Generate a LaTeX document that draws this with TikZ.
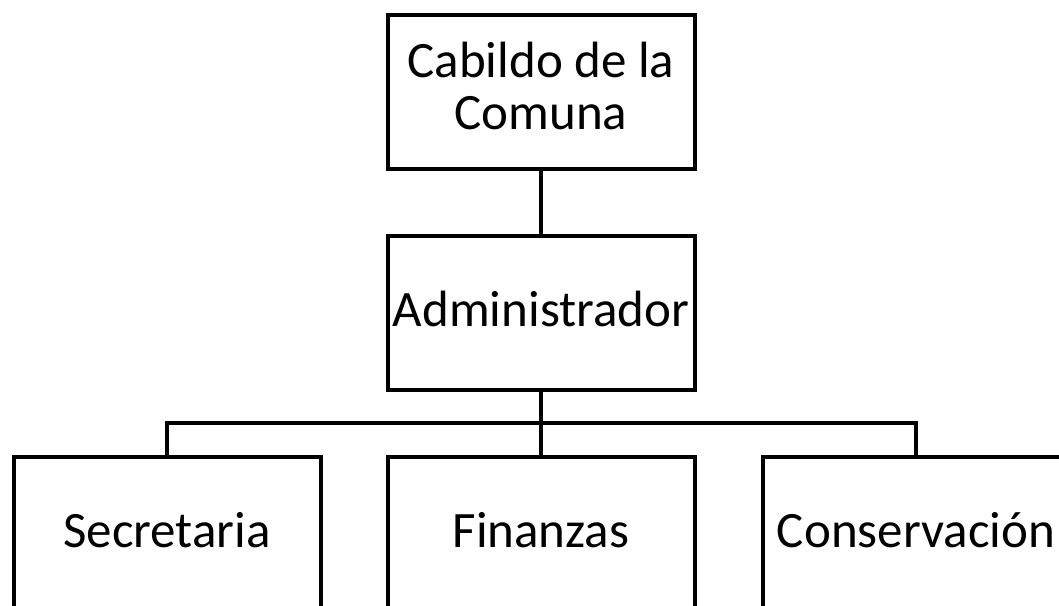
\documentclass[tikz,border=0pt]{standalone}
\usepackage{fontspec}
\setmainfont{Carlito}
\begin{document}
\begin{tikzpicture}[x=1pt,y=-1pt,
  orgbox/.style={draw=black, line width=4pt, fill=white, minimum width=307pt, minimum height=154pt, inner sep=0pt, align=center, font=\fontsize{51}{52}\selectfont, text height=34pt, text depth=7pt},
  twoline/.style={text height=80pt, text depth=6pt},
  link/.style={draw=black, line width=4pt}]
\useasboundingbox (0,0) rectangle (1059,605);
\node[orgbox, twoline] (cab) at (541,92) {Cabildo de la\\Comuna};
\node[orgbox] (adm) at (541,313) {Administrador};
\node[orgbox] (sec) at (167,534) {Secretaria};
\node[orgbox] (fin) at (541,534) {Finanzas};
\node[orgbox] (con) at (916,534) {Conservación};
\coordinate (bus) at (541,423);
\draw[link] (cab.south) -- (adm.north);
\draw[link] (adm.south) -- (fin.north);
\draw[link] (sec.north) |- (bus) -| (con.north);
\end{tikzpicture}
\end{document}
